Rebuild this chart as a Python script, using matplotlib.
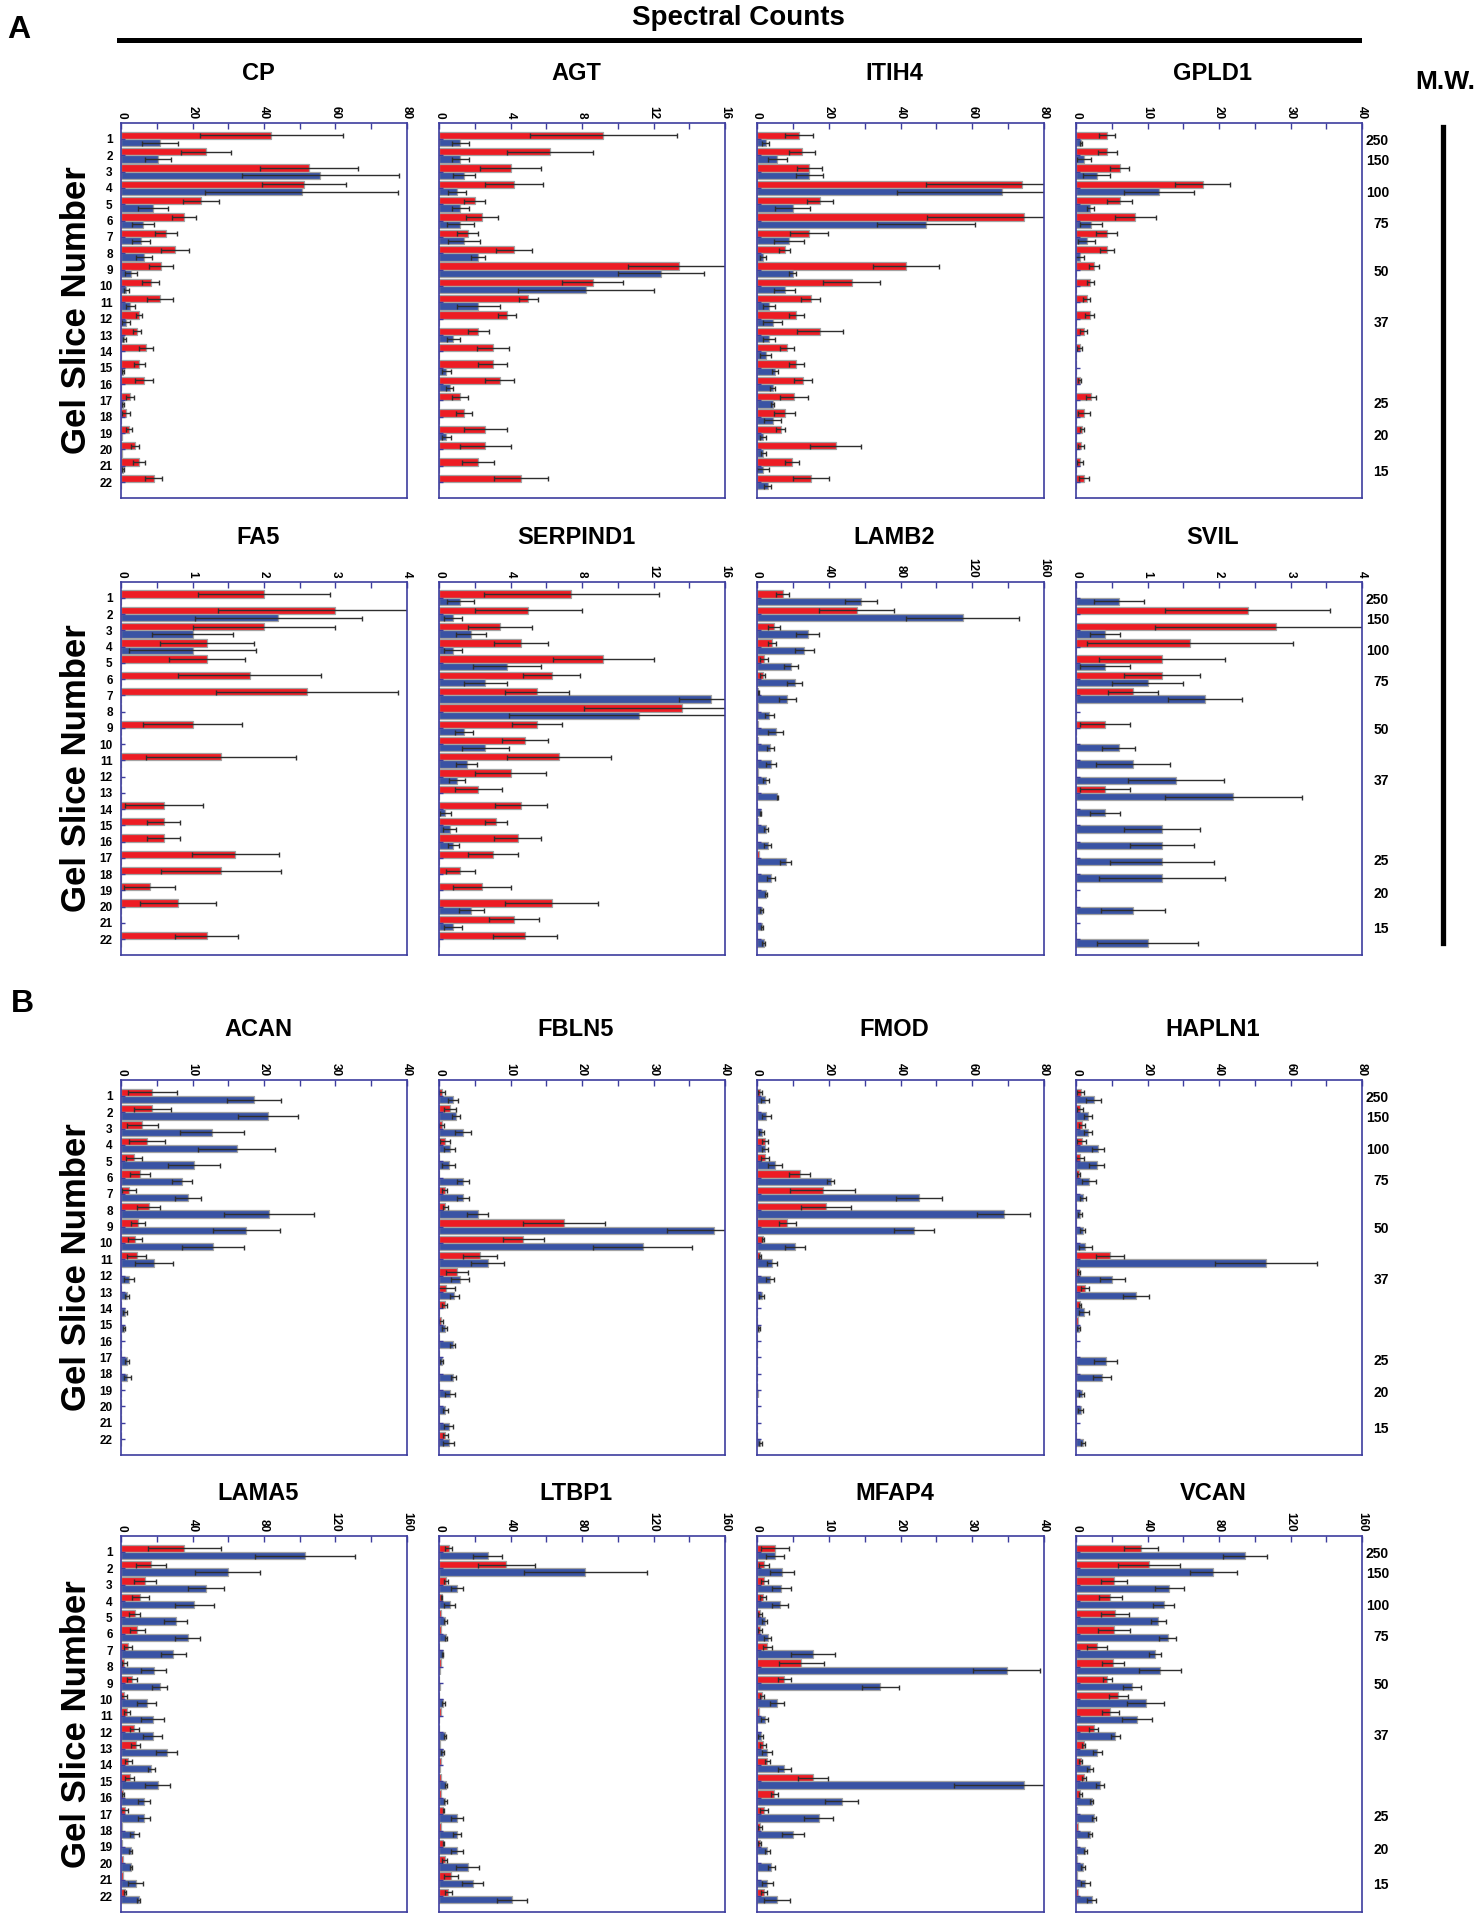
import numpy as np
import matplotlib
matplotlib.use("Agg")
import matplotlib.pyplot as plt

plt.rcParams["font.family"] = ["Liberation Sans", "DejaVu Sans"]
plt.rcParams["font.weight"] = "bold"

SLICES = list(range(1, 23))
MW_LABELS = ["250", "150", "100", "75", "50", "37", "25", "20", "15"]
MW_SLICE = [1.15, 2.35, 4.3, 6.2, 9.15, 12.25, 17.2, 19.2, 21.35]

# ---- panel A, row 1 ----
CP_RED = [42, 23.8, 52.6, 51.2, 22.3, 17.7, 12.6, 15, 11.2, 8.3, 10.9, 5, 4.5, 7, 5.1, 6.4, 2.4, 1.5, 2.2, 3.9, 5, 9.1]
CP_RED_ERR = [20, 7, 13.6, 11.8, 5, 3.4, 3.2, 3.9, 3.3, 2.3, 3.7, 0.8, 1.2, 2, 1.5, 2.5, 1.1, 1.1, 0.8, 1.2, 1.6, 2.3]
CP_BLUE = [10.9, 10.4, 55.8, 50.6, 8.9, 6.2, 5.5, 6.4, 2.9, 1.4, 2.6, 1.5, 0.9, 0, 0.5, 0, 0.5, 0, 0.3, 0.3, 0.5, 0]
CP_BLUE_ERR = [5, 3.6, 22, 27, 4.2, 3.1, 2.5, 2.2, 1.7, 0.7, 1.2, 1.1, 0.4, 0, 0.3, 0, 0.3, 0, 0, 0, 0.3, 0]

AGT_RED = [9.2, 6.2, 4.0, 4.2, 2.0, 2.4, 1.6, 4.2, 13.4, 8.6, 5.0, 3.8, 2.2, 3.0, 3.0, 3.4, 1.2, 1.4, 2.6, 2.6, 2.2, 4.6]
AGT_RED_ERR = [4.1, 2.4, 1.7, 1.6, 0.6, 0.9, 0.6, 1.0, 2.8, 1.7, 0.55, 0.5, 0.6, 0.9, 0.8, 0.8, 0.45, 0.45, 1.2, 1.4, 0.9, 1.5]
AGT_BLUE = [1.2, 1.2, 1.4, 1.0, 1.2, 1.2, 1.4, 2.2, 12.4, 8.2, 2.2, 0, 0.8, 0, 0.4, 0.6, 0, 0, 0.4, 0, 0, 0]
AGT_BLUE_ERR = [0.5, 0.5, 0.6, 0.5, 0.5, 0.75, 0.9, 0.4, 2.4, 3.8, 1.2, 0, 0.35, 0, 0.25, 0.2, 0, 0, 0.25, 0, 0, 0]

ITIH4_RED = [11.7, 12.6, 14.6, 74, 17.6, 74.3, 14.6, 7.7, 41.5, 26.4, 15, 11, 17.6, 8.4, 11, 12.7, 10.3, 7.7, 6.6, 21.9, 9.7, 15]
ITIH4_RED_ERR = [4, 3.7, 3.4, 27, 3.6, 26.8, 5.3, 1.6, 9.3, 7.9, 2.6, 2, 6.4, 1.9, 2, 2.5, 4, 3, 1.3, 7, 2, 5]
ITIH4_BLUE = [2.4, 5.7, 14.6, 68.3, 9.9, 47.1, 9, 1.7, 9.9, 7.7, 3.3, 4.4, 3.3, 2.4, 5, 4.4, 4.4, 4.4, 1.7, 1.7, 1.7, 3]
ITIH4_BLUE_ERR = [0.9, 2.7, 3.7, 29.4, 5, 13.6, 4.2, 0.9, 1.1, 3, 1.7, 2.6, 1.7, 1.6, 0.9, 0.7, 0.4, 2.4, 0.9, 0.7, 1.6, 1]

GPLD1_RED = [4.3, 4.4, 6.1, 17.7, 6.1, 8.3, 4.3, 4.3, 2.45, 2.0, 1.5, 1.9, 1.05, 0.5, 0, 0.5, 2.1, 1.1, 0.8, 0.7, 0.6, 1.05]
GPLD1_RED_ERR = [1.1, 1.3, 1.3, 3.8, 1.8, 2.9, 1.5, 1.0, 0.7, 0.5, 0.5, 0.6, 0.5, 0.3, 0, 0.2, 0.7, 0.8, 0.3, 0.4, 0.4, 0.7]
GPLD1_BLUE = [0.7, 1.1, 2.9, 11.6, 2.0, 2.1, 1.5, 0.5, 0, 0, 0, 0, 0, 0, 0, 0, 0, 0, 0, 0, 0, 0]
GPLD1_BLUE_ERR = [0.2, 1.0, 1.9, 4.9, 0.5, 1.6, 1.2, 0.6, 0, 0, 0, 0, 0, 0, 0, 0, 0, 0, 0, 0, 0, 0]

# ---- panel A, row 2 ----
FA5_RED = [2.0, 3.0, 2.0, 1.2, 1.2, 1.8, 2.6, 0, 1.0, 0, 1.4, 0, 0, 0.6, 0.6, 0.6, 1.6, 1.4, 0.4, 0.8, 0, 1.2]
FA5_RED_ERR = [0.93, 1.65, 1.0, 0.66, 0.53, 1.0, 1.27, 0, 0.69, 0, 1.05, 0, 0, 0.55, 0.23, 0.23, 0.61, 0.84, 0.36, 0.53, 0, 0.44]
FA5_BLUE = [0, 2.2, 1.0, 1.0, 0, 0, 0, 0, 0, 0, 0, 0, 0, 0, 0, 0, 0, 0, 0, 0, 0, 0]
FA5_BLUE_ERR = [0, 1.17, 0.56, 0.89, 0, 0, 0, 0, 0, 0, 0, 0, 0, 0, 0, 0, 0, 0, 0, 0, 0, 0]

SERPIND1_RED = [7.4, 5.0, 3.4, 4.6, 9.2, 6.3, 5.5, 13.6, 5.5, 4.8, 6.7, 4.0, 2.2, 4.6, 3.2, 4.4, 3.0, 1.2, 2.4, 6.3, 4.2, 4.8]
SERPIND1_RED_ERR = [4.9, 3.0, 1.8, 1.5, 2.8, 1.6, 1.8, 5.5, 1.4, 1.3, 2.9, 2.0, 1.3, 1.45, 0.6, 1.3, 1.4, 0.8, 1.6, 2.6, 1.4, 1.8]
SERPIND1_BLUE = [1.2, 0.8, 1.8, 0.8, 3.8, 2.6, 15.2, 11.2, 1.4, 2.6, 1.55, 1.0, 0, 0.36, 0.6, 0.8, 0, 0, 0, 1.8, 0.8, 0]
SERPIND1_BLUE_ERR = [0.75, 0.5, 0.85, 0.5, 1.9, 1.2, 1.8, 7.3, 0.5, 1.3, 0.6, 0.45, 0, 0.3, 0.35, 0.3, 0, 0, 0, 0.7, 0.5, 0]

LAMB2_RED = [14.4, 55.6, 9.6, 8.5, 4.0, 3.2, 0.8, 0.5, 0.8, 0.3, 0, 0.5, 0.8, 0, 0.3, 0, 1.1, 0, 0, 0, 0, 0]
LAMB2_RED_ERR = [3.7, 21, 3.4, 2.1, 2.1, 1.3, 0.3, 0, 0, 0, 0, 0, 0, 0, 0, 0, 0, 0, 0, 0, 0, 0]
LAMB2_BLUE = [58, 114.6, 28.2, 26.3, 18.9, 21, 17, 6.9, 10.4, 7.4, 7.7, 5, 11.2, 2.1, 5, 5.9, 16, 7.7, 5, 2.7, 2.9, 3.7]
LAMB2_BLUE_ERR = [9, 31.7, 6.4, 5.3, 3.7, 4.3, 4.8, 2.7, 4.2, 2.1, 2.9, 1.6, 0.3, 0.3, 1.3, 2.1, 2.9, 2.1, 0.8, 0.8, 0.6, 0.8]

SVIL_RED = [0, 2.4, 2.8, 1.6, 1.2, 1.2, 0.8, 0, 0.4, 0, 0, 0, 0.4, 0, 0, 0, 0, 0, 0, 0, 0, 0]
SVIL_RED_ERR = [0, 1.15, 1.7, 1.44, 0.88, 0.53, 0.35, 0, 0.35, 0, 0, 0, 0.35, 0, 0, 0, 0, 0, 0, 0, 0, 0]
SVIL_BLUE = [0.6, 0, 0.4, 0, 0.4, 1.0, 1.8, 0, 0, 0.6, 0.8, 1.4, 2.2, 0.4, 1.2, 1.2, 1.2, 1.2, 0, 0.8, 0, 1.0]
SVIL_BLUE_ERR = [0.35, 0, 0.21, 0, 0.35, 0.5, 0.52, 0, 0, 0.23, 0.52, 0.67, 0.96, 0.21, 0.53, 0.45, 0.73, 0.88, 0, 0.45, 0, 0.7]

# ---- panel B, row 3 ----
ACAN_RED = [4.4, 4.4, 3.0, 3.6, 1.8, 2.6, 1.1, 3.9, 2.4, 2.0, 2.2, 0, 0, 0, 0, 0, 0, 0, 0, 0, 0, 0]
ACAN_RED_ERR = [3.4, 2.6, 2.2, 2.5, 1.1, 1.4, 1.0, 1.6, 1.0, 1.0, 1.3, 0, 0, 0, 0, 0, 0, 0, 0, 0, 0, 0]
ACAN_BLUE = [18.6, 20.6, 12.7, 16.2, 10.2, 8.5, 9.4, 20.7, 17.5, 12.9, 4.6, 1.1, 0.85, 0.6, 0.4, 0, 0.8, 0.9, 0, 0, 0, 0]
ACAN_BLUE_ERR = [3.8, 4.2, 4.5, 5.4, 3.6, 1.4, 1.8, 6.3, 4.7, 4.3, 2.7, 0.7, 0.3, 0.3, 0.1, 0, 0.3, 0.5, 0, 0, 0, 0]

FBLN5_RED = [0.45, 1.5, 0.35, 0.9, 0, 0, 0.8, 0.9, 17.5, 11.8, 5.7, 2.5, 1.0, 0.8, 0.3, 0, 0, 0, 0, 0, 0, 0.9]
FBLN5_RED_ERR = [0.45, 0.85, 0.4, 0.7, 0, 0, 0.35, 0.4, 5.7, 2.9, 2.4, 1.5, 1.25, 0.35, 0.25, 0, 0, 0, 0, 0, 0, 0.3]
FBLN5_BLUE = [2.0, 2.4, 3.35, 1.5, 1.35, 3.35, 3.35, 5.4, 38.4, 28.5, 6.8, 2.95, 2.15, 0, 0.8, 1.9, 0.35, 2.0, 1.5, 0.9, 1.35, 1.35]
FBLN5_BLUE_ERR = [0.7, 0.6, 1.1, 0.8, 0.9, 0.9, 0.8, 1.5, 6.5, 6.9, 2.3, 1.25, 0.6, 0, 0.35, 0.35, 0.2, 0.35, 0.7, 0.4, 0.6, 0.75]

FMOD_RED = [0.9, 0.3, 0, 2.2, 2.2, 11.9, 18.3, 19.2, 8.5, 1.6, 0.9, 0, 0, 0, 0, 0, 0, 0, 0, 0, 0, 0]
FMOD_RED_ERR = [0.5, 0, 0, 0.8, 1.1, 2.9, 9.1, 7, 2.5, 0.3, 0.3, 0, 0, 0, 0, 0, 0, 0, 0, 0, 0, 0]
FMOD_BLUE = [2.2, 2.6, 1.3, 2.2, 5.0, 20.5, 45.2, 68.8, 43.7, 10.6, 4.2, 3.6, 1.3, 0, 0.6, 0, 0, 0, 0.3, 0, 0, 0.9]
FMOD_BLUE_ERR = [1.1, 1.2, 0.7, 0.8, 2.0, 1.1, 6.4, 7.4, 5.5, 2.9, 1.5, 1.1, 0.7, 0, 0.3, 0, 0, 0, 0, 0, 0, 0.4]

HAPLN1_RED = [1.3, 1.1, 1.6, 1.6, 1.1, 0.7, 0, 0, 0, 0, 9.5, 0.9, 2.5, 1.1, 0.5, 0, 0, 0.4, 0, 0, 0, 0]
HAPLN1_RED_ERR = [1.0, 0.8, 0.9, 1.3, 1.0, 0.4, 0, 0, 0, 0, 4.0, 0.3, 1.1, 0.4, 0, 0, 0, 0, 0, 0, 0, 0]
HAPLN1_BLUE = [5.0, 3.3, 3.3, 6.2, 5.8, 3.6, 2.0, 1.1, 1.9, 2.6, 53.2, 10.2, 16.8, 2.3, 0.8, 0, 8.3, 7.3, 1.6, 1.3, 0, 1.9]
HAPLN1_BLUE_ERR = [2.1, 1.1, 1.1, 1.6, 2.1, 2.0, 0.9, 0.5, 0.7, 1.9, 14.2, 3.6, 3.7, 1.4, 0.4, 0, 3.2, 2.6, 0.7, 0.7, 0, 0.5]

# ---- panel B, row 4 ----
LAMA5_RED = [35.5, 17, 13.6, 10.9, 7.7, 9.1, 3.9, 1.8, 6.1, 1.8, 3.2, 7.5, 8.2, 4.1, 4.8, 1.1, 2.0, 0.5, 0.5, 1.1, 1.1, 2.3]
LAMA5_RED_ERR = [20.2, 8.4, 6.1, 4.5, 3.2, 4.1, 2.3, 1.4, 3.0, 1.6, 1.6, 2.7, 2.7, 2.0, 2.7, 0.4, 1.8, 0, 0, 0, 0, 0.5]
LAMA5_BLUE = [103, 59.8, 47.7, 41.1, 30.7, 37.3, 29.1, 18.2, 21.6, 14.3, 17.7, 17.7, 25.5, 17, 20.5, 12.7, 12.7, 7.5, 5.5, 5.5, 8.2, 10]
LAMA5_BLUE_ERR = [28, 18.2, 10.2, 10.7, 6.4, 7.0, 7.0, 6.8, 4.3, 5.5, 6.4, 5.2, 5.7, 2.0, 6.8, 3.4, 3.4, 2.7, 0.9, 0.5, 4.1, 0.9]

LTBP1_RED = [5.4, 37.6, 4.1, 1.4, 0.9, 0.9, 0, 0.9, 0, 0, 0.9, 0, 0.7, 0.9, 0.9, 0.9, 2.5, 0.9, 2.5, 3.2, 6.6, 5.2]
LTBP1_RED_ERR = [2.0, 15.9, 1.1, 0.3, 0, 0, 0, 0, 0, 0, 0, 0, 0, 0, 0, 0, 0.5, 0, 0.5, 1.4, 3.9, 2.0]
LTBP1_BLUE = [27.2, 81.9, 10, 5.9, 3.6, 3.9, 2.0, 0.5, 0.5, 2.3, 0, 3.2, 2.0, 0.5, 3.9, 3.6, 10, 10, 10, 16.1, 18.8, 40.8]
LTBP1_BLUE_ERR = [8.2, 34.5, 3.2, 2.9, 0.7, 0.5, 0.3, 0, 0, 0.9, 0, 0.5, 0.7, 0, 0.7, 0.9, 3.2, 2.3, 3.2, 6.4, 5.7, 8.4]

MFAP4_RED = [2.5, 1.0, 1.0, 0.8, 0.45, 0.45, 1.45, 6.2, 3.8, 0.7, 0.3, 0, 0.8, 1.45, 7.8, 2.4, 1.0, 0.45, 0.35, 0, 0, 1.0]
MFAP4_RED_ERR = [2.0, 0.7, 0.5, 0.4, 0.3, 0.3, 0.6, 3.2, 0.9, 0.3, 0, 0, 0.4, 0.4, 2.1, 0.5, 0.6, 0.3, 0.2, 0, 0, 0.4]
MFAP4_BLUE = [2.5, 3.5, 3.4, 3.2, 1.05, 1.5, 7.8, 34.8, 17.2, 2.8, 1.1, 0.5, 1.45, 3.8, 37.2, 11.8, 8.6, 5.0, 1.45, 2.0, 1.45, 2.8]
MFAP4_BLUE_ERR = [1.3, 1.7, 1.3, 1.1, 0.4, 0.5, 3.1, 4.7, 2.6, 1.0, 0.5, 0.3, 0.7, 0.9, 9.7, 2.3, 2.0, 1.5, 0.4, 0.5, 0.8, 1.85]

VCAN_RED = [36.3, 40.8, 21.2, 19.3, 21.7, 21.2, 11.7, 20.7, 17.5, 23.6, 19.3, 9.8, 4.2, 2.6, 4.5, 2.4, 0.5, 1.1, 0.3, 0.5, 0.8, 1.3]
VCAN_RED_ERR = [9.3, 17.2, 7.2, 6.4, 7.9, 9.0, 5.8, 6.4, 2.4, 5.3, 5.0, 2.6, 0.8, 1.0, 1.3, 0.8, 0, 0, 0, 0, 0, 0]
VCAN_BLUE = [94.6, 76.8, 52.2, 49, 46.1, 51.4, 44, 47.2, 31.3, 38.9, 34.2, 22, 11.9, 7.9, 13.5, 8.7, 10, 7.9, 5.3, 3.7, 5.3, 8.7]
VCAN_BLUE_ERR = [12.5, 13.2, 8, 5.8, 4.0, 4.8, 3.4, 11.7, 5, 10.1, 8.5, 2.4, 2.6, 1.6, 2.4, 1.0, 1.1, 1.3, 0.8, 1.1, 2.6, 2.4]

# name, axis max, label step, data
PANELS = [
    [("CP", 80, 20, CP_RED, CP_RED_ERR, CP_BLUE, CP_BLUE_ERR),
     ("AGT", 16, 4, AGT_RED, AGT_RED_ERR, AGT_BLUE, AGT_BLUE_ERR),
     ("ITIH4", 80, 20, ITIH4_RED, ITIH4_RED_ERR, ITIH4_BLUE, ITIH4_BLUE_ERR),
     ("GPLD1", 40, 10, GPLD1_RED, GPLD1_RED_ERR, GPLD1_BLUE, GPLD1_BLUE_ERR)],
    [("FA5", 4, 1, FA5_RED, FA5_RED_ERR, FA5_BLUE, FA5_BLUE_ERR),
     ("SERPIND1", 16, 4, SERPIND1_RED, SERPIND1_RED_ERR, SERPIND1_BLUE, SERPIND1_BLUE_ERR),
     ("LAMB2", 160, 40, LAMB2_RED, LAMB2_RED_ERR, LAMB2_BLUE, LAMB2_BLUE_ERR),
     ("SVIL", 4, 1, SVIL_RED, SVIL_RED_ERR, SVIL_BLUE, SVIL_BLUE_ERR)],
    [("ACAN", 40, 10, ACAN_RED, ACAN_RED_ERR, ACAN_BLUE, ACAN_BLUE_ERR),
     ("FBLN5", 40, 10, FBLN5_RED, FBLN5_RED_ERR, FBLN5_BLUE, FBLN5_BLUE_ERR),
     ("FMOD", 80, 20, FMOD_RED, FMOD_RED_ERR, FMOD_BLUE, FMOD_BLUE_ERR),
     ("HAPLN1", 80, 20, HAPLN1_RED, HAPLN1_RED_ERR, HAPLN1_BLUE, HAPLN1_BLUE_ERR)],
    [("LAMA5", 160, 40, LAMA5_RED, LAMA5_RED_ERR, LAMA5_BLUE, LAMA5_BLUE_ERR),
     ("LTBP1", 160, 40, LTBP1_RED, LTBP1_RED_ERR, LTBP1_BLUE, LTBP1_BLUE_ERR),
     ("MFAP4", 40, 10, MFAP4_RED, MFAP4_RED_ERR, MFAP4_BLUE, MFAP4_BLUE_ERR),
     ("VCAN", 160, 40, VCAN_RED, VCAN_RED_ERR, VCAN_BLUE, VCAN_BLUE_ERR)],
]

RED = "#ed1c24"
BLUE = "#3953a4"
FRAME = "#3d3d9e"
EDGE = "#a3a3a3"
ERR = "#2e2e2e"

W, H = 1484, 1920
COLS = [(121, 407), (439, 725), (757, 1044), (1076, 1362)]
ROWS = [(123, 498), (582, 955), (1080, 1455), (1536, 1912)]
TITLE_Y = [73, 537, 1029, 1493]

fig = plt.figure(figsize=(W / 100, H / 100), dpi=100)


def fx(px):
    return px / W


def fy(py):
    return 1 - py / H


def draw_panel(ax, name, xmax, step, red, red_err, blue, blue_err, first_col):
    y = np.array(SLICES, dtype=float)
    h = 0.45
    red, red_err = np.array(red), np.array(red_err)
    blue, blue_err = np.array(blue), np.array(blue_err)

    ax.barh(y - h / 2, red, height=h, color=RED, edgecolor=EDGE, linewidth=0.9)
    ax.barh(y + h / 2, blue, height=h, color=BLUE, edgecolor=EDGE, linewidth=0.9)

    for vals, errs, off in ((red, red_err, -h / 2), (blue, blue_err, h / 2)):
        m = errs > 0
        ax.errorbar(vals[m], y[m] + off, xerr=errs[m], fmt="none", ecolor=ERR,
                    elinewidth=1.0, capsize=1.8, capthick=1.0)

    ax.set_xlim(0, xmax)
    ax.set_ylim(22.5 + 0.47, 0.5 - 0.47)

    ticks = np.arange(0, xmax + step / 4, step / 2)
    ax.set_xticks(ticks)
    ax.set_xticklabels([f"{t:g}" if i % 2 == 0 else "" for i, t in enumerate(ticks)],
                       rotation=-90, fontsize=8.5, fontweight="bold")
    ax.xaxis.set_ticks_position("top")
    ax.tick_params(axis="x", direction="in", length=4, width=1, color=FRAME, pad=3)

    ax.set_yticks(y)
    if first_col:
        ax.set_yticklabels([str(s) for s in SLICES], fontsize=8.5, fontweight="bold")
    else:
        ax.set_yticklabels([])
    ax.tick_params(axis="y", direction="in", length=3, width=1, color=FRAME, pad=6)

    for sp in ax.spines.values():
        sp.set_color(FRAME)
        sp.set_linewidth(1.2)


for r, row in enumerate(PANELS):
    top, bot = ROWS[r]
    for c, (name, xmax, step, red, red_err, blue, blue_err) in enumerate(row):
        left, right = COLS[c]
        ax = fig.add_axes([fx(left), fy(bot), fx(right - left), (bot - top) / H])
        draw_panel(ax, name, xmax, step, red, red_err, blue, blue_err, c == 0)
        fig.text(fx((left + right) / 2 - 6), fy(TITLE_Y[r]), name, ha="center", va="center",
                 fontsize=17, fontweight="bold")
        if c == 3:
            for lab, s in zip(MW_LABELS, MW_SLICE):
                ax.text(1.0 + 27 / (right - left), s, lab, transform=ax.get_yaxis_transform(),
                        ha="right", va="center", fontsize=10, fontweight="bold", clip_on=False)
    fig.text(fx(76), fy((top + bot) / 2), "Gel Slice Number", rotation=90, ha="center",
             va="center", fontsize=25, fontweight="bold")

# headers
fig.text(fx(19), fy(30), "A", ha="center", va="center", fontsize=23, fontweight="bold")
fig.text(fx(22), fy(1004), "B", ha="center", va="center", fontsize=23, fontweight="bold")
fig.text(fx(738), fy(18), "Spectral Counts", ha="center", va="center", fontsize=20, fontweight="bold")
fig.add_artist(plt.Line2D([fx(119), fx(1359)], [fy(40), fy(40)], color="black", lw=3.6))
fig.text(fx(1445), fy(82), "M.W.", ha="center", va="center", fontsize=19, fontweight="bold")
fig.add_artist(plt.Line2D([fx(1443), fx(1443)], [fy(127), fy(943)], color="black", lw=3.8))

fig.savefig("out.png", dpi=100)
